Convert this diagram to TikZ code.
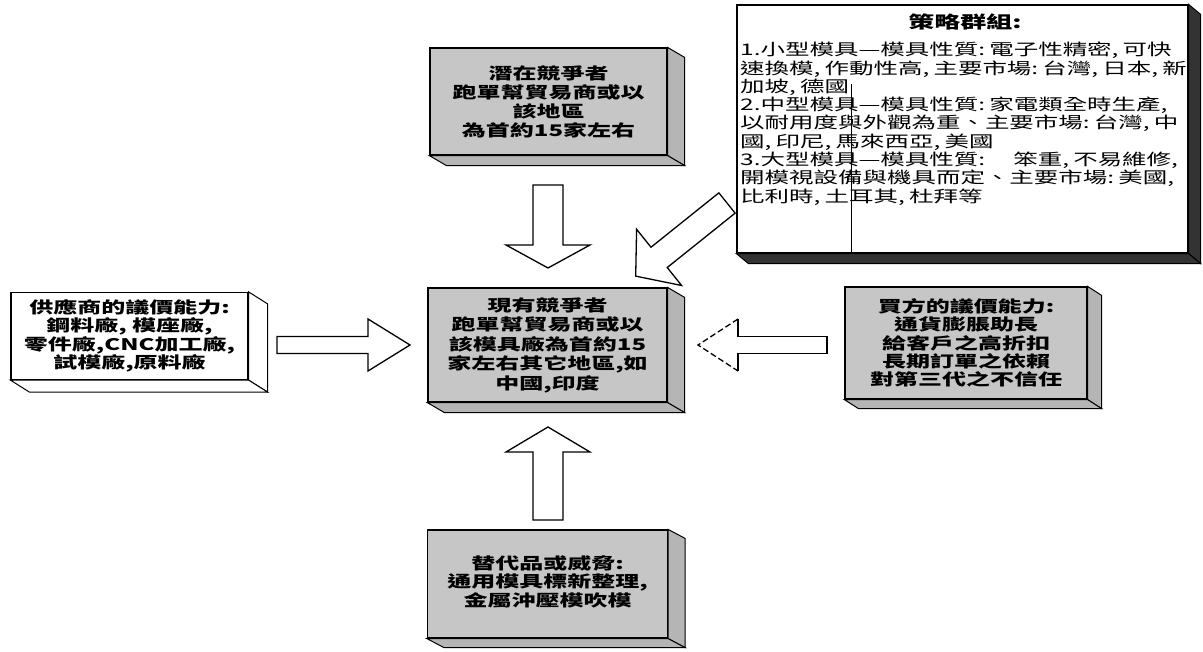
\documentclass[tikz,border=0pt]{standalone}
\usepackage{fontspec}
\usetikzlibrary{calc}
\newfontfamily\cjk[FakeStretch=1.5]{Noto Sans CJK TC}
\newfontfamily\cjkw[FakeStretch=1.53]{Noto Sans CJK TC}
\newcommand{\cm}{\makebox[11pt][l]{,}}
\newcommand{\cl}{\makebox[11pt][l]{:}}
\begin{document}
\lineskiplimit=-100pt
\begin{tikzpicture}[x=1pt,y=-1pt,
  front/.style={draw=black,line width=1.2pt,fill=gray!45,inner sep=0pt,align=center,
    font=\cjk\bfseries\fontsize{16}{19}\selectfont},
  side/.style={draw=black,line width=1pt,fill=gray!58},
  blockarr/.style={draw=black,line width=1.3pt,fill=white,line join=miter},
  pics/barrow/.style n args={4}{code={
    \draw[blockarr] (0,-#2) -- ({#1-#4},-#2) -- ({#1-#4},-#3) -- (#1,0) -- ({#1-#4},#3) -- ({#1-#4},#2) -- (0,#2) -- cycle;}}
]
\useasboundingbox[fill=white] (0,0) rectangle (1203,652);

% ---------- arrows ----------
\coordinate (aTop) at (548,185);
\coordinate (aBot) at (548,520);
\coordinate (aLeft) at (277,345);
\coordinate (aDiag) at (727,203);
\pic[rotate=-90] at (aTop) {barrow={83}{15}{42}{23}};
\pic[rotate=90] at (aBot) {barrow={93}{15}{42}{25}};
\pic at (aLeft) {barrow={133}{8.5}{26}{42}};
\pic[rotate=218.7] at (aDiag) {barrow={117}{13}{36}{30}};
% right arrow with dashed head
\coordinate (aRight) at (827,345);
\begin{scope}[shift={(aRight)},rotate=180]
  \fill[white] (0,-8.5) -- (89,-8.5) -- (89,-26) -- (129,0) -- (89,26) -- (89,8.5) -- (0,8.5) -- cycle;
  \draw[line width=1.3pt] (89,-26) -- (89,-8.5) -- (0,-8.5) -- (0,8.5) -- (89,8.5) -- (89,26);
  \draw[line width=1.3pt,dash pattern=on 6pt off 3pt] (89,26) -- (129,0) -- (89,-26);
\end{scope}

% ---------- top box ----------
\node[front,minimum width=237pt,minimum height=107pt] (top) at (548.5,101.5)
  {潛在競爭者\\跑單幫貿易商或以\\該地區\\為首約15家左右};
\draw[side] (top.north east) -- ++(17,10) -- ($(top.south east)+(17,10)$) -- (top.south east) -- cycle;
\draw[side] (top.south west) -- ++(17,10) -- ($(top.south east)+(17,10)$) -- (top.south east) -- cycle;

% ---------- center box ----------
\node[front,minimum width=239pt,minimum height=114pt,font=\cjk\bfseries\fontsize{16}{19.5}\selectfont] (mid) at (547.5,345)
  {現有競爭者\\跑單幫貿易商或以\\該模具廠為首約15\\家左右其它地區,如\\中國,印度};
\draw[side] (mid.north east) -- ++(17,10) -- ($(mid.south east)+(17,10)$) -- (mid.south east) -- cycle;
\draw[side] (mid.south west) -- ++(17,10) -- ($(mid.south east)+(17,10)$) -- (mid.south east) -- cycle;

% ---------- left box ----------
\node[front,fill=white,minimum width=237pt,minimum height=87pt,font=\cjk\bfseries\fontsize{16}{18.3}\selectfont] (left) at (129.5,336)
  {供應商的議價能力:\\鋼料廠, 模座廠,\\零件廠,CNC加工廠,\\試模廠,原料廠};
\draw[side,fill=white] (left.north east) -- ++(19,12) -- ($(left.south east)+(19,12)$) -- (left.south east) -- cycle;
\draw[side,fill=white] (left.south west) -- ++(19,12) -- ($(left.south east)+(19,12)$) -- (left.south east) -- cycle;

% ---------- right box ----------
\node[front,minimum width=242pt,minimum height=112pt,font=\cjk\bfseries\fontsize{16}{18.3}\selectfont] (right) at (966,343)
  {買方的議價能力:\\通貨膨脹助長\\給客戶之高折扣\\長期訂單之依賴\\對第三代之不信任};
\draw[side] (right.north east) -- ++(14,9) -- ($(right.south east)+(14,9)$) -- (right.south east) -- cycle;
\draw[side] (right.south west) -- ++(14,9) -- ($(right.south east)+(14,9)$) -- (right.south east) -- cycle;

% ---------- bottom box ----------
\node[front,minimum width=240pt,minimum height=108pt] (bot) at (547.5,584) {};
\node[font=\cjk\bfseries\fontsize{16}{18.5}\selectfont,align=center,inner sep=0pt,anchor=north] (bottxt) at (547.5,555)
  {替代品或威脅:\\通用模具標新整理,\\金屬沖壓模吹模};
\draw[side] (bot.north east) -- ++(17,9) -- ($(bot.south east)+(17,9)$) -- (bot.south east) -- cycle;
\draw[side] (bot.south west) -- ++(17,9) -- ($(bot.south east)+(17,9)$) -- (bot.south east) -- cycle;

% ---------- strategy box ----------
\node[draw=black,line width=1.2pt,fill=white,minimum width=451pt,minimum height=248pt,inner sep=0pt] (strat) at (962.5,129) {};
\draw[side,fill=black!80] (strat.north east) -- ++(12,10) -- ($(strat.south east)+(12,10)$) -- (strat.south east) -- cycle;
\draw[side,fill=black!80] (strat.south west) -- ++(12,10) -- ($(strat.south east)+(12,10)$) -- (strat.south east) -- cycle;
\node[font=\cjkw\bfseries\fontsize{17}{19}\selectfont,inner sep=0pt] (stitle) at (965,22) {策略群組:};
\node[font=\cjkw\fontsize{16}{18.3}\selectfont,align=left,inner sep=0pt,anchor=north west] (slines) at (740,42)
  {1.小型模具—模具性質\cl 電子性精密\cm 可快\\
   速換模\cm 作動性高\cm 主要市場\cl 台灣\cm 日本\cm 新\\
   加坡\cm 德國\\
   2.中型模具—模具性質\cl 家電類全時生產\cm\\
   以耐用度與外觀為重、主要市場\cl 台灣\cm 中\\
   國\cm 印尼\cm 馬來西亞\cm 美國\\
   3.大型模具—模具性質\cl\hspace{24pt}笨重\cm 不易維修\cm\\
   開模視設備與機具而定、主要市場\cl 美國\cm\\
   比利時\cm 土耳其\cm 杜拜等};
\draw[line width=0.8pt] ($(strat.south west)+(115,0)$) -- ($(strat.south west)+(115,-170)$);
\end{tikzpicture}
\end{document}
